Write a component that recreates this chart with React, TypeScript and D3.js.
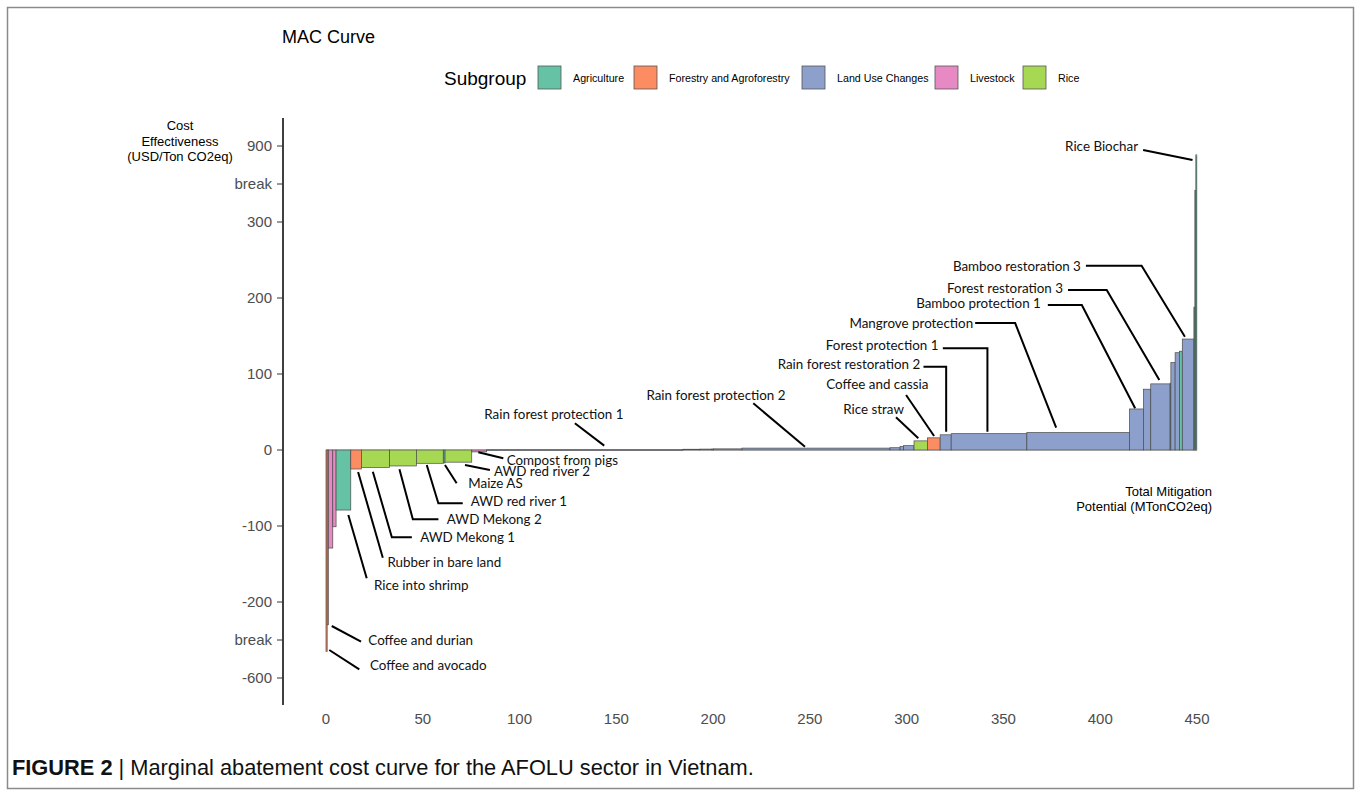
import React from "react";
import * as d3 from "d3";

// ---------- DATA ----------
const optionNames = [
  "Coffee and avocado", "Coffee and durian", "", "", "Rice into shrimp", "Rubber in bare land",
  "AWD Mekong 1", "AWD Mekong 2", "AWD red river 1", "Maize AS", "AWD red river 2", "Compost from pigs",
  "Rain forest protection 1", "", "", "", "", "Rain forest protection 2", "", "", "",
  "Rice straw", "Coffee and cassia", "Rain forest restoration 2", "Forest protection 1", "Mangrove protection",
  "Bamboo protection 1", "", "Forest restoration 3", "", "", "", "", "Bamboo restoration 3", "", "", "Rice Biochar",
];
const optionGroups = [
  "Forestry and Agroforestry", "Forestry and Agroforestry", "Livestock", "Livestock", "Agriculture", "Forestry and Agroforestry",
  "Rice", "Rice", "Rice", "Agriculture", "Rice", "Livestock",
  "Land Use Changes", "Land Use Changes", "Land Use Changes", "Rice", "Land Use Changes", "Land Use Changes", "Land Use Changes", "Land Use Changes", "Land Use Changes",
  "Rice", "Forestry and Agroforestry", "Land Use Changes", "Land Use Changes", "Land Use Changes",
  "Land Use Changes", "Land Use Changes", "Land Use Changes", "Agriculture", "Land Use Changes", "Land Use Changes", "Agriculture", "Land Use Changes", "Agriculture", "Agriculture", "Agriculture",
];
// mitigation potential (MTonCO2eq) = bar width
const potentials = [
  0.6, 0.6, 2.3, 1.7, 7.6, 5.5,
  14.5, 13.9, 13.9, 0.9, 13.8, 7.7,
  101.4, 8.8, 6.2, 0.8, 14.7, 76.5, 5.2, 1.7, 5.5,
  6.9, 6.6, 5.7, 39.1, 53.0,
  7.2, 3.8, 10.0, 0.4, 2.2, 2.2, 1.5, 6.0, 0.5, 0.5, 0.5,
];
// cost effectiveness (USD/Ton CO2eq) = bar height
const costs = [
  -460, -320, -129, -101, -79, -25,
  -23, -21, -17.5, -17, -16, -2.5,
  0.4, 1, 1.2, 1.3, 1.5, 2.5, 3, 4.5, 5.7,
  12, 16, 20, 21.5, 23,
  54, 80, 87, 88, 115, 128, 130, 146, 188, 550, 830,
];

const groupNames = ["Agriculture", "Forestry and Agroforestry", "Land Use Changes", "Livestock", "Rice"];
const groupColors = ["#66c2a5", "#fc8d62", "#8da0cb", "#e78ac3", "#a6d854"];

const yTickValues = [-600, -400, -200, -100, 0, 100, 200, 300, 600, 900];
const yTickLabels = ["-600", "break", "-200", "-100", "0", "100", "200", "300", "break", "900"];
const xTickValues = [0, 50, 100, 150, 200, 250, 300, 350, 400, 450];

// ---------- LAYOUT (label leader lines: pixel offsets from bar end) ----------
type Lay = { name: string; pts: number[][]; text: number[]; anchor: string };
const labelLayout: Lay[] = [
  { name: "Coffee and avocado", pts: [[2.7, -1.4], [32.7, 17.9]], text: [43.4, 13.6], anchor: "start" },
  { name: "Coffee and durian", pts: [[4, 1.2], [33.3, 16.9]], text: [40.6, 15.9], anchor: "start" },
  { name: "Rice into shrimp", pts: [[4.9, 5], [23.3, 68.3]], text: [30.6, 75], anchor: "start" },
  { name: "Rubber in bare land", pts: [[2, 3], [26.7, 88.7]], text: [31.3, 93.7], anchor: "start" },
  { name: "AWD Mekong 1", pts: [[-2.6, 4.2], [16.4, 69.8], [36.4, 69.8]], text: [44.7, 70.2], anchor: "start" },
  { name: "AWD Mekong 2", pts: [[-3.5, 3.3], [9.9, 53.3], [35.5, 53.3]], text: [43.9, 53.3], anchor: "start" },
  { name: "AWD red river 1", pts: [[-3.1, 1.7], [8.5, 40], [32.9, 40]], text: [40.9, 37.7], anchor: "start" },
  { name: "Maize AS", pts: [[0.8, 2.1], [12.5, 20.4]], text: [24.1, 20.4], anchor: "start" },
  { name: "AWD red river 2", pts: [[6.6, 2.8], [31.5, 7.8]], text: [35.5, 9.5], anchor: "start" },
  { name: "Compost from pigs", pts: [[-0.9, 0.4], [24.1, 6.4]], text: [27.5, 8.1], anchor: "start" },
  { name: "Rain forest protection 1", pts: [[19.4, -4.1], [-9.9, -26.5]], text: [-30.9, -34.8], anchor: "middle" },
  { name: "Rain forest protection 2", pts: [[-11, -1.4], [-62.7, -44.8]], text: [-100, -53], anchor: "middle" },
  { name: "Rice straw", pts: [[-2.4, -2.6], [-24.7, -23.6]], text: [-16.7, -31.6], anchor: "end" },
  { name: "Coffee and cassia", pts: [[0.3, -1.8], [-27.7, -42.8]], text: [-5.4, -53.5], anchor: "end" },
  { name: "Rain forest restoration 2", pts: [[0.5, -3.1], [0.5, -68.1], [-22.2, -68.1]], text: [-25.5, -70.8], anchor: "end" },
  { name: "Forest protection 1", pts: [[-1.6, -2], [-1.6, -85.4], [-46.2, -85.4]], text: [-50.6, -88], anchor: "end" },
  { name: "Mangrove protection", pts: [[-22, -4.8], [-63, -109.5], [-103, -109.5]], text: [-105, -109.5], anchor: "end" },
  { name: "Bamboo protection 1", pts: [[-1.3, -0.7], [-54.6, -104], [-88.6, -104]], text: [-95.6, -105], anchor: "end" },
  { name: "Forest restoration 3", pts: [[-1.1, -3.9], [-53.7, -93.9], [-92.4, -93.9]], text: [-97.4, -94.9], anchor: "end" },
  { name: "Bamboo restoration 3", pts: [[-3.2, -2.3], [-46.5, -73.3], [-102.2, -73.3]], text: [-107.2, -73], anchor: "end" },
  { name: "Rice Biochar", pts: [[-3.8, 5.1], [-53.2, -4.9]], text: [-58.2, -8.2], anchor: "end" },
];

const legendKeyX = [538, 634, 802, 935, 1023];

const W = 1358;
const H = 796;

export default function App() {
  const x = d3.scaleLinear().domain([0, 450]).range([326, 1197]);
  const y = d3
    .scaleLinear()
    .domain([-600, -400, -200, 300, 600, 900])
    .range([678, 640, 602, 222, 184, 146]);
  const color = d3.scaleOrdinal<string, string>().domain(groupNames).range(groupColors);

  const starts: number[] = [];
  let acc = 0;
  potentials.forEach((p) => {
    starts.push(acc);
    acc += p;
  });

  const bars = potentials.map((p, i) => {
    const x0 = x(starts[i]);
    const x1 = x(starts[i] + p);
    const yv = y(costs[i]);
    const y0 = y(0);
    return {
      i,
      x0,
      w: Math.max(x1 - x0, 0.5),
      top: Math.min(yv, y0),
      h: Math.max(Math.abs(yv - y0), 0.6),
      cx: (x0 + x1) / 2,
      end: yv,
      fill: color(optionGroups[i]),
    };
  });

  const line = d3.line<number[]>().x((d) => d[0]).y((d) => d[1]);

  const labelFont = "Lato, 'Open Sans', sans-serif";
  const arial = "'Liberation Sans', Arial, sans-serif";

  return (
    <svg
      width={W}
      height={H}
      style={{ position: "absolute", left: 0, top: 0, background: "#fff" }}
      xmlns="http://www.w3.org/2000/svg"
    >
      <rect x={0} y={0} width={W} height={H} fill="#fff" />
      <rect x={7.5} y={7.5} width={1346} height={781} fill="none" stroke="#8a8a8a" strokeWidth={1.5} />

      {/* title */}
      <text x={282} y={43} fontFamily={arial} fontSize={18} fill="#000">MAC Curve</text>

      {/* legend */}
      <text x={444} y={85} fontFamily={arial} fontSize={19} fill="#000">Subgroup</text>
      {groupNames.map((g, i) => (
        <g key={g}>
          <rect x={legendKeyX[i]} y={66} width={23} height={23} fill={groupColors[i]} stroke="#555" strokeWidth={0.8} />
          <text x={legendKeyX[i] + 35} y={81.5} fontFamily={arial} fontSize={10.7} fill="#000">{g}</text>
        </g>
      ))}

      {/* y axis title */}
      {["Cost", "Effectiveness", "(USD/Ton CO2eq)"].map((t, i) => (
        <text key={t} x={180} y={130 + i * 15.5} textAnchor="middle" fontFamily={arial} fontSize={13} fill="#000">{t}</text>
      ))}

      {/* y axis */}
      <line x1={283} x2={283} y1={118} y2={705} stroke="#000" strokeWidth={1.5} />
      {yTickValues.map((v, i) => (
        <g key={i}>
          <line x1={277} x2={283} y1={y(v)} y2={y(v)} stroke="#333" strokeWidth={1} />
          <text x={272} y={y(v) + 5} textAnchor="end" fontFamily={arial} fontSize={15} fill="#4d4d4d">{yTickLabels[i]}</text>
        </g>
      ))}

      {/* x tick labels */}
      {xTickValues.map((v) => (
        <text key={v} x={x(v)} y={724} textAnchor="middle" fontFamily={arial} fontSize={15} fill="#4d4d4d">{v}</text>
      ))}

      {/* x axis title */}
      <text x={1212} y={496} textAnchor="end" fontFamily={arial} fontSize={13} fill="#000">Total Mitigation</text>
      <text x={1212} y={511} textAnchor="end" fontFamily={arial} fontSize={13} fill="#000">Potential (MTonCO2eq)</text>

      {/* zero baseline */}
      <line x1={x(0)} x2={x(450)} y1={y(0)} y2={y(0)} stroke="#666" strokeWidth={0.6} />

      {/* bars */}
      {bars.map((b) => (
        <rect key={b.i} x={b.x0} y={b.top} width={b.w} height={b.h} fill={b.fill} stroke="#4a4a4a" strokeWidth={0.7} />
      ))}

      {/* labels */}
      {labelLayout.map((l) => {
        const idx = optionNames.indexOf(l.name);
        const b = bars[idx];
        const pts = l.pts.map((p) => [b.cx + p[0], b.end + p[1]]);
        return (
          <g key={l.name}>
            <path d={line(pts) || ""} fill="none" stroke="#000" strokeWidth={2} />
            <text
              x={b.cx + l.text[0]}
              y={b.end + l.text[1] + 4.5}
              textAnchor={l.anchor}
              fontFamily={labelFont}
              fontSize={13.4}
              fill="#111"
            >
              {l.name}
            </text>
          </g>
        );
      })}

      {/* caption */}
      <text x={12} y={775} fontFamily={arial} fontSize={21.8} fill="#111">
        <tspan fontWeight="bold">FIGURE 2</tspan>
        <tspan> | Marginal abatement cost curve for the AFOLU sector in Vietnam.</tspan>
      </text>
    </svg>
  );
}
